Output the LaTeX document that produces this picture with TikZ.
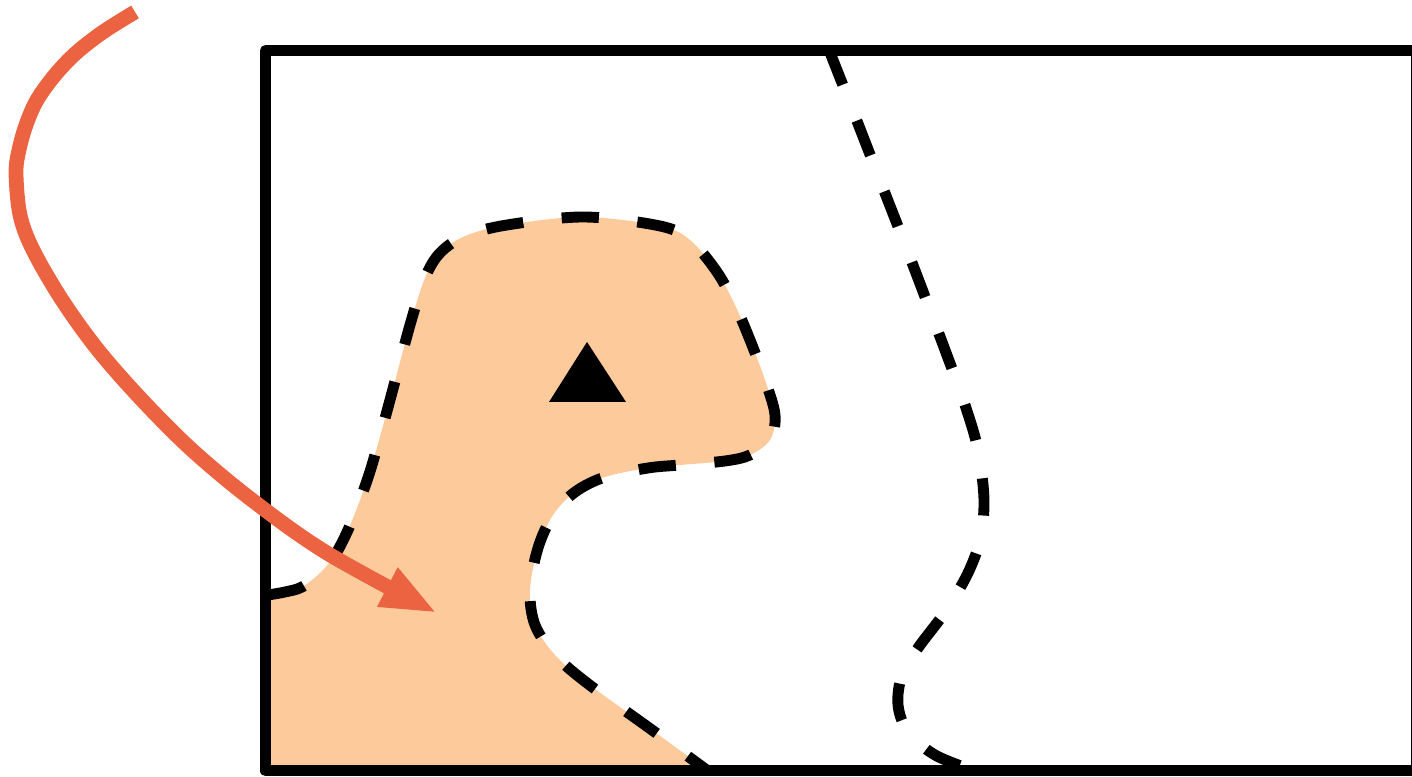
\documentclass[tikz,border=0pt]{standalone}
\usetikzlibrary{arrows.meta}
\definecolor{peach}{RGB}{253,203,155}
\definecolor{arrowc}{RGB}{235,99,65}
\tikzset{
  wall/.style={line width=3.13pt, line join=round},
  dashline/.style={line width=3.1pt, dash pattern=on 10.6pt off 11.0pt},
  flow/.style={line width=4.2pt, arrowc, -{Triangle[length=0.56cm,width=0.40cm]}},
}
\begin{document}
\begin{tikzpicture}[x=0.01cm,y=-0.01cm]
\useasboundingbox (0,0) rectangle (1412,777);
% region fill
\fill[peach] plot[smooth,tension=0.55] coordinates {(268,595) (285,592) (302,587) (320,573) (335,555) (348,530) (360,500) (372,465) (390,400) (410,325) (425,278) (440,253) (465,236) (507,225) (584,217) (660,226) (690,240) (717,272) (735,305) (750,340) (765,380) (775,415) (770,440) (750,455) (725,461) (680,465) (648,468) (605,477) (575,492) (553,515) (538,548) (530,590) (535,625) (555,655) (587,683) (652,730) (708,771)} -- (268,771) -- cycle;
% frame
\draw[wall] (1416.5,50.5) -- (265.5,50.5) -- (265.5,771) -- (1416.5,771);
\draw[wall] (1416.5,50.5) -- (1416.5,771);
% dashed boundary of region
\draw[dashline] plot[smooth,tension=0.55] coordinates {(268,595) (285,592) (302,587) (320,573) (335,555) (348,530) (360,500) (372,465) (390,400) (410,325) (425,278) (440,253) (465,236) (507,225) (584,217) (660,226) (690,240) (717,272) (735,305) (750,340) (765,380) (775,415) (770,440) (750,455) (725,461) (680,465) (648,468) (605,477) (575,492) (553,515) (538,548) (530,590) (535,625) (555,655) (587,683) (652,730) (708,771)};
% second dashed curve
\draw[dashline] plot[smooth,tension=0.55] coordinates {(829,50) (855,116) (883,188) (911,260) (945,350) (965,405) (978,450) (984,500) (980,540) (967,575) (945,612) (918,648) (902,675) (898,705) (908,732) (935,755) (975,771)};
% triangle marker
\fill (549,402) -- (626,402) -- (587,342) -- cycle;
% arrow
\draw[flow] plot[smooth,tension=0.55] coordinates {(135,12) (103,32) (76,53) (55,75) (37,100) (26,125) (19,150) (16,173) (20,215) (33,250) (62,300) (98,350) (142,400) (192,450) (252,500) (327,553) (437,613)};
\end{tikzpicture}
\end{document}
